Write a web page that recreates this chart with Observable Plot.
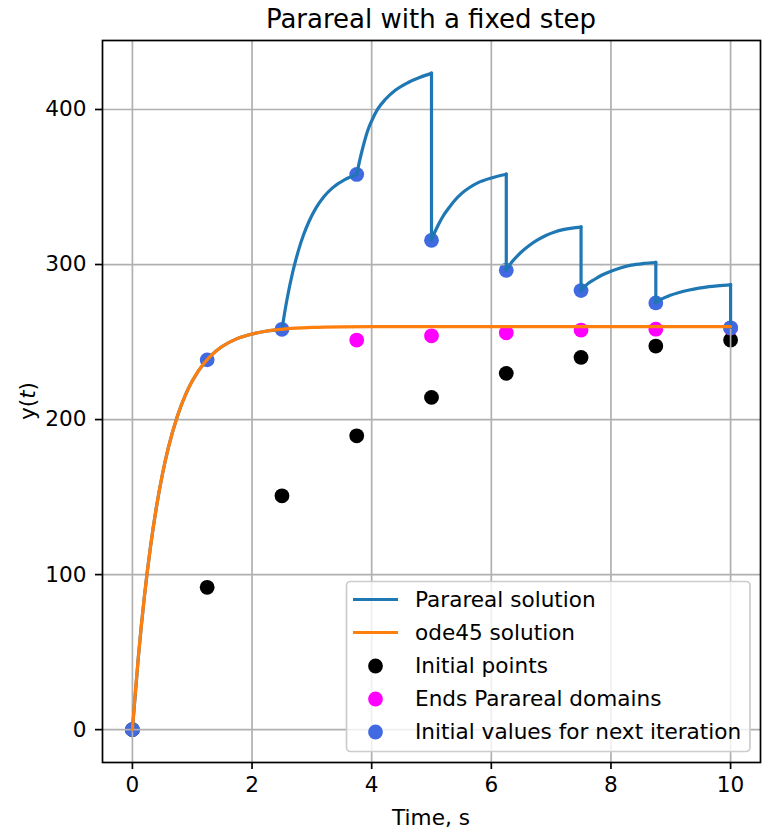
<!DOCTYPE html>
<html>
<head>
<meta charset="utf-8">
<script src="https://cdn.jsdelivr.net/npm/d3@7"></script>
<script src="https://cdn.jsdelivr.net/npm/@observablehq/plot@0.6"></script>
<style>
  html, body { margin: 0; padding: 0; background: white; }
  #chart { width: 762px; height: 831px; }
</style>
</head>
<body>
<div id="chart"></div>
<script>
// ---- Data ----
const nodeT = [0, 1.25, 2.5, 3.75, 5, 6.25, 7.5, 8.75, 10];

// Initial points (black) — t = 0 value hidden under the blue dot
const initialPointsY = [0, 91.8, 150.8, 189.5, 214.3, 229.8, 240.1, 247.4, 251.3];

// Ends of Parareal domains (magenta), t = 3.75 ... 10
const endsT = [3.75, 5, 6.25, 7.5, 8.75, 10];
const endsY = [251.3, 254.0, 256.0, 257.7, 258.3, 259.0];

// Initial values for next iteration (royal blue)
const nextY = [0, 238.5, 258.2, 358.1, 315.6, 296.3, 283.2, 275.2, 259.2];

// ode45 solution
const odeT = [0, 0.05, 0.1, 0.15, 0.2, 0.3, 0.4, 0.5, 0.6, 0.75, 0.9, 1.0, 1.1, 1.25, 1.4, 1.5, 1.75, 2.0, 2.25, 2.5, 3, 3.5, 4, 5, 6, 7, 8, 9, 10];
const odeY = [0, 24.7, 47.1, 67.4, 85.7, 117.3, 143.2, 164.4, 181.7, 202.0, 217.0, 224.8, 231.3, 238.7, 244.2, 247.1, 252.2, 255.2, 257.1, 258.2, 259.4, 259.8, 259.9, 260, 260, 260, 260, 260, 260];

// Parareal solution, segment by segment
const paraSeg0T = [0, 0.1, 0.2, 0.3, 0.4, 0.5, 0.6, 0.75, 0.9, 1.0, 1.25, 1.5, 1.75, 2.0, 2.25, 2.5];
const paraSeg0Y = [0, 47.1, 85.7, 117.3, 143.2, 164.4, 181.7, 202.0, 217.0, 224.8, 238.7, 247.1, 252.2, 255.2, 257.1, 258.2];
const paraSeg1T = [2.5, 2.56, 2.61, 2.67, 2.725, 2.79, 2.86, 2.95, 3.06, 3.2, 3.34, 3.55, 3.75];
const paraSeg1Y = [258.2, 272.3, 282.6, 293.4, 302.0, 310.9, 319.0, 327.6, 335.9, 343.7, 349.3, 354.8, 358.1];
const paraSeg2T = [3.75, 3.8, 3.86, 3.93, 4.0, 4.1, 4.23, 4.4, 4.61, 4.8, 5.0];
const paraSeg2Y = [358.1, 367.2, 376.6, 386.0, 392.7, 400.2, 406.6, 412.6, 417.4, 420.6, 423.3];
const paraSeg3T = [5, 5.05, 5.11, 5.19, 5.28, 5.38, 5.5, 5.63, 5.78, 6.0, 6.25];
const paraSeg3Y = [315.6, 320.5, 325.3, 331, 336, 341, 345.7, 349.5, 352.8, 355.8, 358.2];
const paraSeg4T = [6.25, 6.33, 6.42, 6.53, 6.64, 6.78, 6.92, 7.06, 7.2, 7.35, 7.5];
const paraSeg4Y = [296.3, 301, 304.9, 309, 312.4, 316, 318.9, 321, 322.5, 323.5, 324.1];
const paraSeg5T = [7.5, 7.6, 7.73, 7.86, 8.0, 8.17, 8.34, 8.55, 8.75];
const paraSeg5Y = [283.2, 287.2, 290.5, 293.4, 295.7, 297.9, 299.6, 300.7, 301.3];
const paraSeg6T = [8.75, 8.85, 8.98, 9.14, 9.31, 9.47, 9.64, 9.82, 10];
const paraSeg6Y = [275.2, 277.8, 280, 282, 283.6, 284.8, 285.8, 286.4, 286.9];

// vertical jumps of the Parareal solution
const jumpT = [5, 6.25, 7.5, 8.75, 10];
const jumpTop = [423.3, 358.2, 324.1, 301.3, 286.9];
const jumpBottom = [315.6, 296.3, 283.2, 275.2, 259.2];

const xTicks = [0, 2, 4, 6, 8, 10];
const yTicks = [0, 100, 200, 300, 400];

const titleText = "Parareal with a fixed step";
const xLabel = "Time, s";
const legendLabels = ["Parareal solution", "ode45 solution", "Initial points", "Ends Parareal domains", "Initial values for next iteration"];

// ---- Build tables ----
const initialPts = nodeT.map((t, i) => ({t, y: initialPointsY[i]}));
const endsPts = endsT.map((t, i) => ({t, y: endsY[i]}));
const nextPts = nodeT.map((t, i) => ({t, y: nextY[i]}));
const ode = odeT.map((t, i) => ({t, y: odeY[i]}));
const segs = [[paraSeg0T, paraSeg0Y], [paraSeg1T, paraSeg1Y], [paraSeg2T, paraSeg2Y], [paraSeg3T, paraSeg3Y],
              [paraSeg4T, paraSeg4Y], [paraSeg5T, paraSeg5Y], [paraSeg6T, paraSeg6Y]];
const para = segs.flatMap(([ts, ys], k) => ts.map((t, i) => ({t, y: ys[i], seg: k})));
const jumps = jumpT.map((t, i) => ({t, y1: jumpTop[i], y2: jumpBottom[i]}));

const C_PARA = "#1f77b4", C_ODE = "#ff7f0e", C_NEXT = "#4169e1", C_ENDS = "#ff00ff";
const FONT = "DejaVu Sans, Liberation Sans, sans-serif";
const FS = 21.6;
const LW = 3.2;
const R = 7.4;

const chart = Plot.plot({
  width: 762,
  height: 831,
  marginTop: 40,
  marginLeft: 102,
  marginRight: 2,
  marginBottom: 69,
  style: {fontFamily: FONT, fontSize: FS + "px", color: "black", background: "white", overflow: "visible"},
  x: {domain: [-0.5, 10.5], label: null},
  y: {domain: [-21.2, 444.5], label: null},
  marks: [
    Plot.dot(initialPts, {x: "t", y: "y", r: R, fill: "black"}),
    Plot.dot(endsPts, {x: "t", y: "y", r: R, fill: C_ENDS}),
    Plot.dot(nextPts, {x: "t", y: "y", r: R, fill: C_NEXT}),
    Plot.gridX(xTicks, {stroke: "#b0b0b0", strokeOpacity: 1, strokeWidth: 1.7}),
    Plot.gridY(yTicks, {stroke: "#b0b0b0", strokeOpacity: 1, strokeWidth: 1.7}),
    Plot.line(para, {x: "t", y: "y", z: "seg", curve: "monotone-x", stroke: C_PARA, strokeWidth: LW, strokeLinecap: "round", strokeLinejoin: "round"}),
    Plot.ruleX(jumps, {x: "t", y1: "y1", y2: "y2", stroke: C_PARA, strokeWidth: LW, strokeLinecap: "round"}),
    Plot.line(ode, {x: "t", y: "y", curve: "monotone-x", stroke: C_ODE, strokeWidth: LW, strokeLinecap: "round", strokeLinejoin: "round"}),
    Plot.frame({stroke: "black", strokeWidth: 1.7}),
    Plot.axisX(xTicks, {tickSize: 7, tickPadding: 7, strokeWidth: 1.7, fontSize: FS, label: null}),
    Plot.axisY(yTicks, {tickSize: 7, tickPadding: 9, strokeWidth: 1.7, fontSize: FS, label: null})
  ]
});

document.getElementById("chart").appendChild(chart);

// ---- Title, axis labels and legend as real SVG text ----
const svg = d3.select(chart);
const g = svg.append("g").attr("font-family", FONT).attr("fill", "black");

g.append("text").attr("x", 431).attr("y", 27.5).attr("text-anchor", "middle")
  .attr("font-size", 26).text(titleText);

g.append("text").attr("x", 431).attr("y", 825).attr("text-anchor", "middle")
  .attr("font-size", FS).text(xLabel);

const yl = g.append("text").attr("transform", "translate(35,401) rotate(-90)")
  .attr("text-anchor", "middle").attr("font-size", FS);
yl.append("tspan").text("y(");
yl.append("tspan").attr("font-style", "italic").text("t");
yl.append("tspan").text(")");

// legend
const leg = g.append("g");
leg.append("rect").attr("x", 346.5).attr("y", 581.5).attr("width", 403.5).attr("height", 170)
  .attr("rx", 4).attr("fill", "white").attr("fill-opacity", 0.8)
  .attr("stroke", "#cccccc").attr("stroke-width", 1.7);
const kinds = [["line", C_PARA], ["line", C_ODE], ["dot", "black"], ["dot", C_ENDS], ["dot", C_NEXT]];
legendLabels.forEach((lab, i) => {
  const base = 606.5 + 33 * i;
  const [kind, col] = kinds[i];
  if (kind === "line") {
    leg.append("line").attr("x1", 353).attr("x2", 398).attr("y1", base - 7).attr("y2", base - 7)
      .attr("stroke", col).attr("stroke-width", LW);
  } else {
    leg.append("circle").attr("cx", 375.5).attr("cy", base - 6.5).attr("r", R).attr("fill", col);
  }
  leg.append("text").attr("x", 415).attr("y", base).attr("text-anchor", "start")
    .attr("font-size", FS).text(lab);
});
</script>
</body>
</html>
